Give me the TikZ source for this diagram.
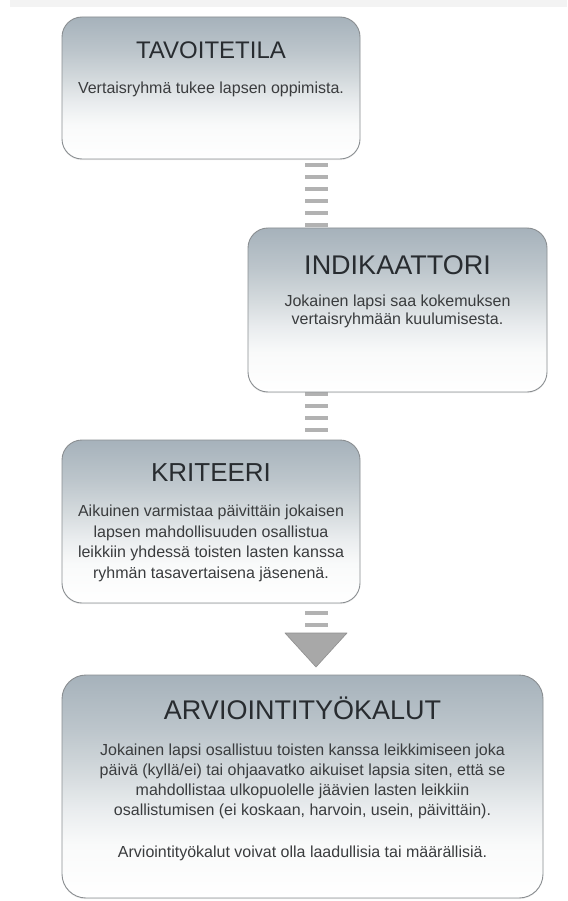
\documentclass[tikz,border=0pt]{standalone}
\usepackage{fontspec}
\setmainfont{Liberation Sans}
\usetikzlibrary{shadows}
\pgfdeclarelayer{bgl}
\pgfdeclarelayer{connl}
\pgfsetlayers{bgl,connl,main}
\definecolor{shA}{RGB}{166,178,187}
\definecolor{shB}{RGB}{188,197,203}
\definecolor{shC}{RGB}{212,218,221}
\definecolor{shD}{RGB}{233,236,238}
\definecolor{shE}{RGB}{249,250,250}
\definecolor{boxline}{RGB}{138,142,145}
\definecolor{titletext}{RGB}{40,44,48}
\definecolor{bodytext}{RGB}{58,60,62}
\definecolor{dashgray}{RGB}{178,178,178}
\definecolor{trigray}{RGB}{168,168,168}
\definecolor{topband}{RGB}{243,243,243}
\pgfdeclareverticalshading{boxshade}{100bp}{color(0bp)=(white); color(25bp)=(white); color(37bp)=(shE); color(45bp)=(shD); color(53bp)=(shC); color(63bp)=(shB); color(75bp)=(shA); color(100bp)=(shA)}
\tikzset{
  box/.style={draw=boxline, line width=0.9pt, rounded corners=20pt, shading=boxshade, inner sep=0pt,
    drop shadow={opacity=0.12, shadow xshift=0pt, shadow yshift=-1.2pt}},
  ttl/.style={anchor=base, inner sep=0pt, text=titletext, font=\fontsize{#1}{#1}\selectfont},
  bdy/.style={anchor=base, inner sep=0pt, text=bodytext, font=\fontsize{16}{16}\selectfont},
  dashconn/.style={draw=dashgray, line width=23pt, dash pattern=on 4pt off 8pt},
}
\begin{document}
\begin{tikzpicture}[x=1pt,y=-1pt]
\begin{pgfonlayer}{bgl}
\fill[white] (0,0) rectangle (567,901);
\fill[topband] (10,0) rectangle (567,7);
\end{pgfonlayer}
\useasboundingbox (0,0) rectangle (567,901);

\coordinate (cx) at (316.5,0);
\coordinate (tritop) at (316,633);
\coordinate (tl) at (285,633);
\coordinate (tr) at (347,633);
\coordinate (tip) at (316,667);

% boxes
\node[box, minimum width=298pt, minimum height=142pt] (b1) at (211,88) {};
\node[box, minimum width=299pt, minimum height=164pt] (b2) at (397.5,310) {};
\node[box, minimum width=298pt, minimum height=163pt] (b3) at (211,521.5) {};
\node[box, minimum width=481pt, minimum height=223pt, rounded corners=24pt] (b4) at (302.5,786.5) {};

% connectors behind the boxes
\begin{pgfonlayer}{connl}
\draw[dashconn, dash phase=8pt] (b1.south -| cx) -- (b2.north -| cx);
\draw[dashconn] (b2.south -| cx) -- (b3.north -| cx);
\draw[dashconn, dash phase=4pt] (b3.south -| cx) -- (tritop -| cx);
\end{pgfonlayer}
\filldraw[fill=trigray, draw=trigray!85!black, line width=0.6pt, line join=round] (tl) -- (tr) -- (tip) -- cycle;

% texts
\node[ttl=24] (t1) at (211,58.6) {TAVOITETILA};
\node[bdy] (t1a) at (211,93.5) {Vertaisryhmä tukee lapsen oppimista.};

\node[ttl=27] (t2) at (397.5,274.7) {INDIKAATTORI};
\node[bdy] (t2a) at (397.5,306.5) {Jokainen lapsi saa kokemuksen};
\node[bdy] (t2b) at (397.5,324.5) {vertaisryhmään kuulumisesta.};

\node[ttl=26] (t3) at (211,481.3) {KRITEERI};
\node[bdy] (t3a) at (211,516.5) {Aikuinen varmistaa päivittäin jokaisen};
\node[bdy] (t3b) at (211,537) {lapsen mahdollisuuden osallistua};
\node[bdy] (t3c) at (211,557.5) {leikkiin yhdessä toisten lasten kanssa};
\node[bdy] (t3d) at (211,578) {ryhmän tasavertaisena jäsenenä.};

\node[ttl=27] (t4) at (302.5,719.7) {ARVIOINTITYÖKALUT};
\node[bdy] (t4a) at (302.5,755.5) {Jokainen lapsi osallistuu toisten kanssa leikkimiseen joka};
\node[bdy] (t4b) at (302.5,775.5) {päivä (kyllä/ei) tai ohjaavatko aikuiset lapsia siten, että se};
\node[bdy] (t4c) at (302.5,795.5) {mahdollistaa ulkopuolelle jäävien lasten leikkiin};
\node[bdy] (t4d) at (302.5,815.5) {osallistumisen (ei koskaan, harvoin, usein, päivittäin).};
\node[bdy] (t4e) at (302.5,857) {Arviointityökalut voivat olla laadullisia tai määrällisiä.};
\end{tikzpicture}
\end{document}
